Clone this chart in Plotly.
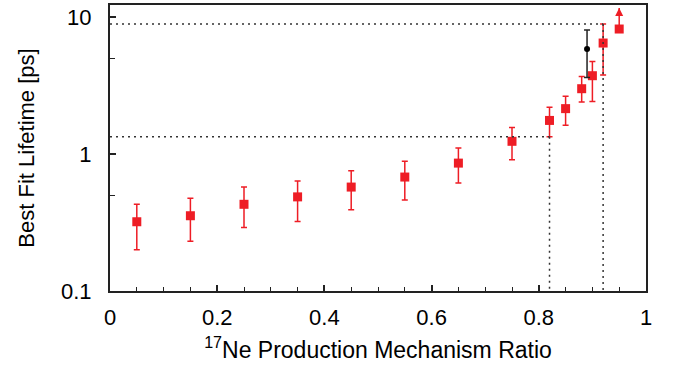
import math
import plotly.graph_objects as go

# ---- data ----
ratio = [0.05, 0.15, 0.25, 0.35, 0.45, 0.55, 0.65, 0.75, 0.82, 0.85, 0.88, 0.90, 0.92, 0.95]
lifetime = [0.32, 0.354, 0.429, 0.486, 0.573, 0.678, 0.857, 1.236, 1.755, 2.14, 2.99, 3.72, 6.44, 8.15]
err_high = [0.43, 0.475, 0.573, 0.634, 0.753, 0.885, 1.105, 1.56, 2.19, 2.63, 3.67, 4.72, 8.85, None]
err_low = [0.20, 0.231, 0.291, 0.322, 0.391, 0.462, 0.613, 0.905, 1.335, 1.62, 2.39, 2.41, 3.76, None]
arrow_top = 11.6  # last point: lower limit, arrow upward

black_ratio = [0.89]
black_lifetime = [5.83]
black_high = [8.01]
black_low = [3.61]

bound_ratio = [0.82, 0.92]
bound_lifetime = [1.335, 8.85]

y_ticks = [0.1, 1, 10]
y_ticktext = ["0.1", "1", "10"]
y_minor = [0.5, 5]
x_ticks = [0, 0.2, 0.4, 0.6, 0.8, 1]
x_ticktext = ["0", "0.2", "0.4", "0.6", "0.8", "1"]

RED = "#EE1D25"
FONT = "Liberation Sans, Arial, sans-serif"
DOT = "2px,4px"

n = len([v for v in err_high if v is not None])

fig = go.Figure()

# dotted boundary lines
for bx, by in zip(bound_ratio, bound_lifetime):
    fig.add_shape(type="line", xref="x", yref="y", x0=0, x1=bx, y0=by, y1=by,
                  line=dict(color="#333333", width=1.5, dash=DOT))
    fig.add_shape(type="line", xref="x", yref="y", x0=bx, x1=bx, y0=by, y1=0.1,
                  line=dict(color="#333333", width=1.5, dash=DOT))

fig.add_trace(go.Scatter(
    x=ratio[:n], y=lifetime[:n], mode="markers",
    marker=dict(symbol="square", size=9, color=RED),
    error_y=dict(type="data", symmetric=False,
                 array=[h - v for h, v in zip(err_high[:n], lifetime[:n])],
                 arrayminus=[v - l for l, v in zip(err_low[:n], lifetime[:n])],
                 color=RED, thickness=1.5, width=3),
    showlegend=False))

fig.add_trace(go.Scatter(
    x=black_ratio, y=black_lifetime, mode="markers",
    marker=dict(symbol="circle", size=6, color="black"),
    error_y=dict(type="data", symmetric=False,
                 array=[h - v for h, v in zip(black_high, black_lifetime)],
                 arrayminus=[v - l for l, v in zip(black_low, black_lifetime)],
                 color="#222222", thickness=1.5, width=3),
    showlegend=False))

# lower-limit point with upward arrow
for xr, yv in zip(ratio[n:], lifetime[n:]):
    fig.add_trace(go.Scatter(
        x=[xr, xr], y=[yv, arrow_top], mode="lines",
        line=dict(color=RED, width=1.5), showlegend=False))
    fig.add_trace(go.Scatter(
        x=[xr], y=[arrow_top], mode="markers",
        marker=dict(symbol="arrow-up", size=8, color=RED, line=dict(width=0)),
        cliponaxis=False, showlegend=False))
    fig.add_trace(go.Scatter(
        x=[xr], y=[yv], mode="markers",
        marker=dict(symbol="square", size=9, color=RED), showlegend=False))

fig.update_layout(
    width=678, height=373,
    margin=dict(l=110, r=32, t=3, b=82),
    paper_bgcolor="white", plot_bgcolor="white",
    font=dict(family=FONT, size=22, color="black"),
)
fig.update_xaxes(
    range=[0, 1], showgrid=False, zeroline=False,
    showline=True, linecolor="#222222", linewidth=2, mirror=True,
    ticks="inside", ticklen=6, tickwidth=1.5, tickcolor="#222222",
    tickvals=x_ticks, ticktext=x_ticktext, ticklabelstandoff=6,
    minor=dict(dtick=0.05, ticks="inside", ticklen=4, tickcolor="#222222", tickwidth=1),
    title=dict(text="<sup>17</sup>Ne Production Mechanism Ratio", standoff=12,
               font=dict(size=23)),
)
fig.update_yaxes(
    type="log", range=[-1, math.log10(12.2)], showgrid=False, zeroline=False,
    showline=True, linecolor="#222222", linewidth=2, mirror=True,
    ticks="inside", ticklen=6, tickwidth=1.5, tickcolor="#222222",
    tickvals=y_ticks, ticktext=y_ticktext, ticklabelstandoff=12,
    minor=dict(tickvals=y_minor, ticks="inside", ticklen=5, tickcolor="#222222", tickwidth=1),
    title=dict(text="Best Fit Lifetime [ps]", standoff=20, font=dict(size=22)),
)

fig.write_html("out.html")
